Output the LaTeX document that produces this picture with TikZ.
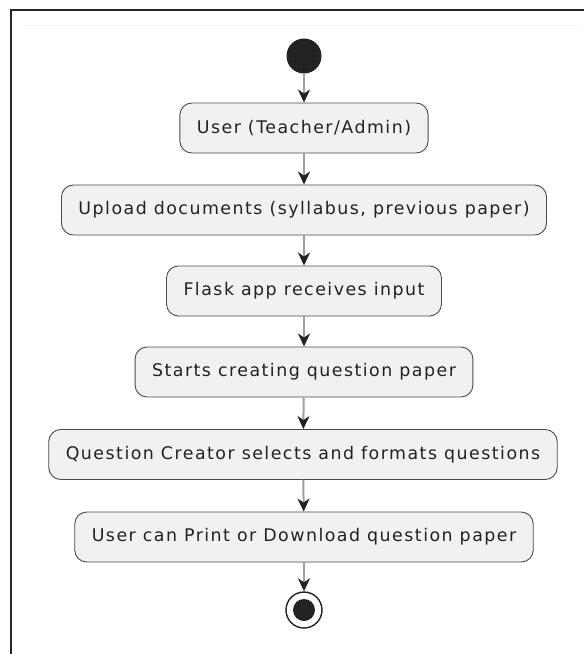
\documentclass[tikz,border=0pt]{standalone}
\usepackage{fontspec}
\setmainfont{DejaVu Sans}[LetterSpace=8.5]
\usetikzlibrary{arrows.meta}
\definecolor{boxfill}{HTML}{F1F1F1}
\definecolor{boxline}{HTML}{4A4A4A}
\definecolor{txt}{HTML}{222222}
\definecolor{arrline}{HTML}{A0A0A0}
\definecolor{dotfill}{HTML}{222222}
\tikzset{
  actbox/.style={draw=boxline, line width=0.9pt, fill=boxfill, rounded corners=12pt,
    inner xsep=17pt, minimum height=50pt, font=\fontsize{17.4}{20}\selectfont, text=txt},
  flow/.style={draw=arrline, line width=2pt,
    -{Stealth[length=13pt,width=12pt,inset=4pt,color=dotfill]}},
}
\begin{document}
\begin{tikzpicture}[x=1pt,y=-1pt]
\useasboundingbox (0,0) rectangle (584,654);
\fill[white] (0,0) rectangle (584,654);
% frame
\draw[gray!8, line width=1pt] (25,25) -- (580,25);
\draw[black!85, line width=1.5pt] (11,654) -- (11,10) -- (584,10);
% nodes
\node[circle, fill=dotfill, minimum size=35pt, inner sep=0pt] (start) at (304,56) {};
\node[actbox] (n1) at (304,128) {User (Teacher/Admin)};
\node[actbox] (n2) at (304,210) {Upload documents (syllabus, previous paper)};
\node[actbox] (n3) at (304,291) {Flask app receives input};
\node[actbox] (n4) at (304,372) {Starts creating question paper};
\node[actbox] (n5) at (303,454.5) {Question Creator selects and formats questions};
\node[actbox] (n6) at (304,537) {User can Print or Download question paper};
\node[circle, draw=dotfill, line width=1.4pt, fill=white, minimum size=36pt, inner sep=0pt] (end) at (304,610) {};
\node[circle, fill=dotfill, minimum size=22pt, inner sep=0pt] (endin) at (end.center) {};
% connectors
\draw[flow] (start) -- (n1);
\draw[flow] (n1) -- (n2);
\draw[flow] (n2) -- (n3);
\draw[flow] (n3) -- (n4);
\draw[flow] (n4) -- (n5);
\draw[flow] (n5) -- (n6);
\draw[flow] (n6) -- (end);
\end{tikzpicture}
\end{document}
